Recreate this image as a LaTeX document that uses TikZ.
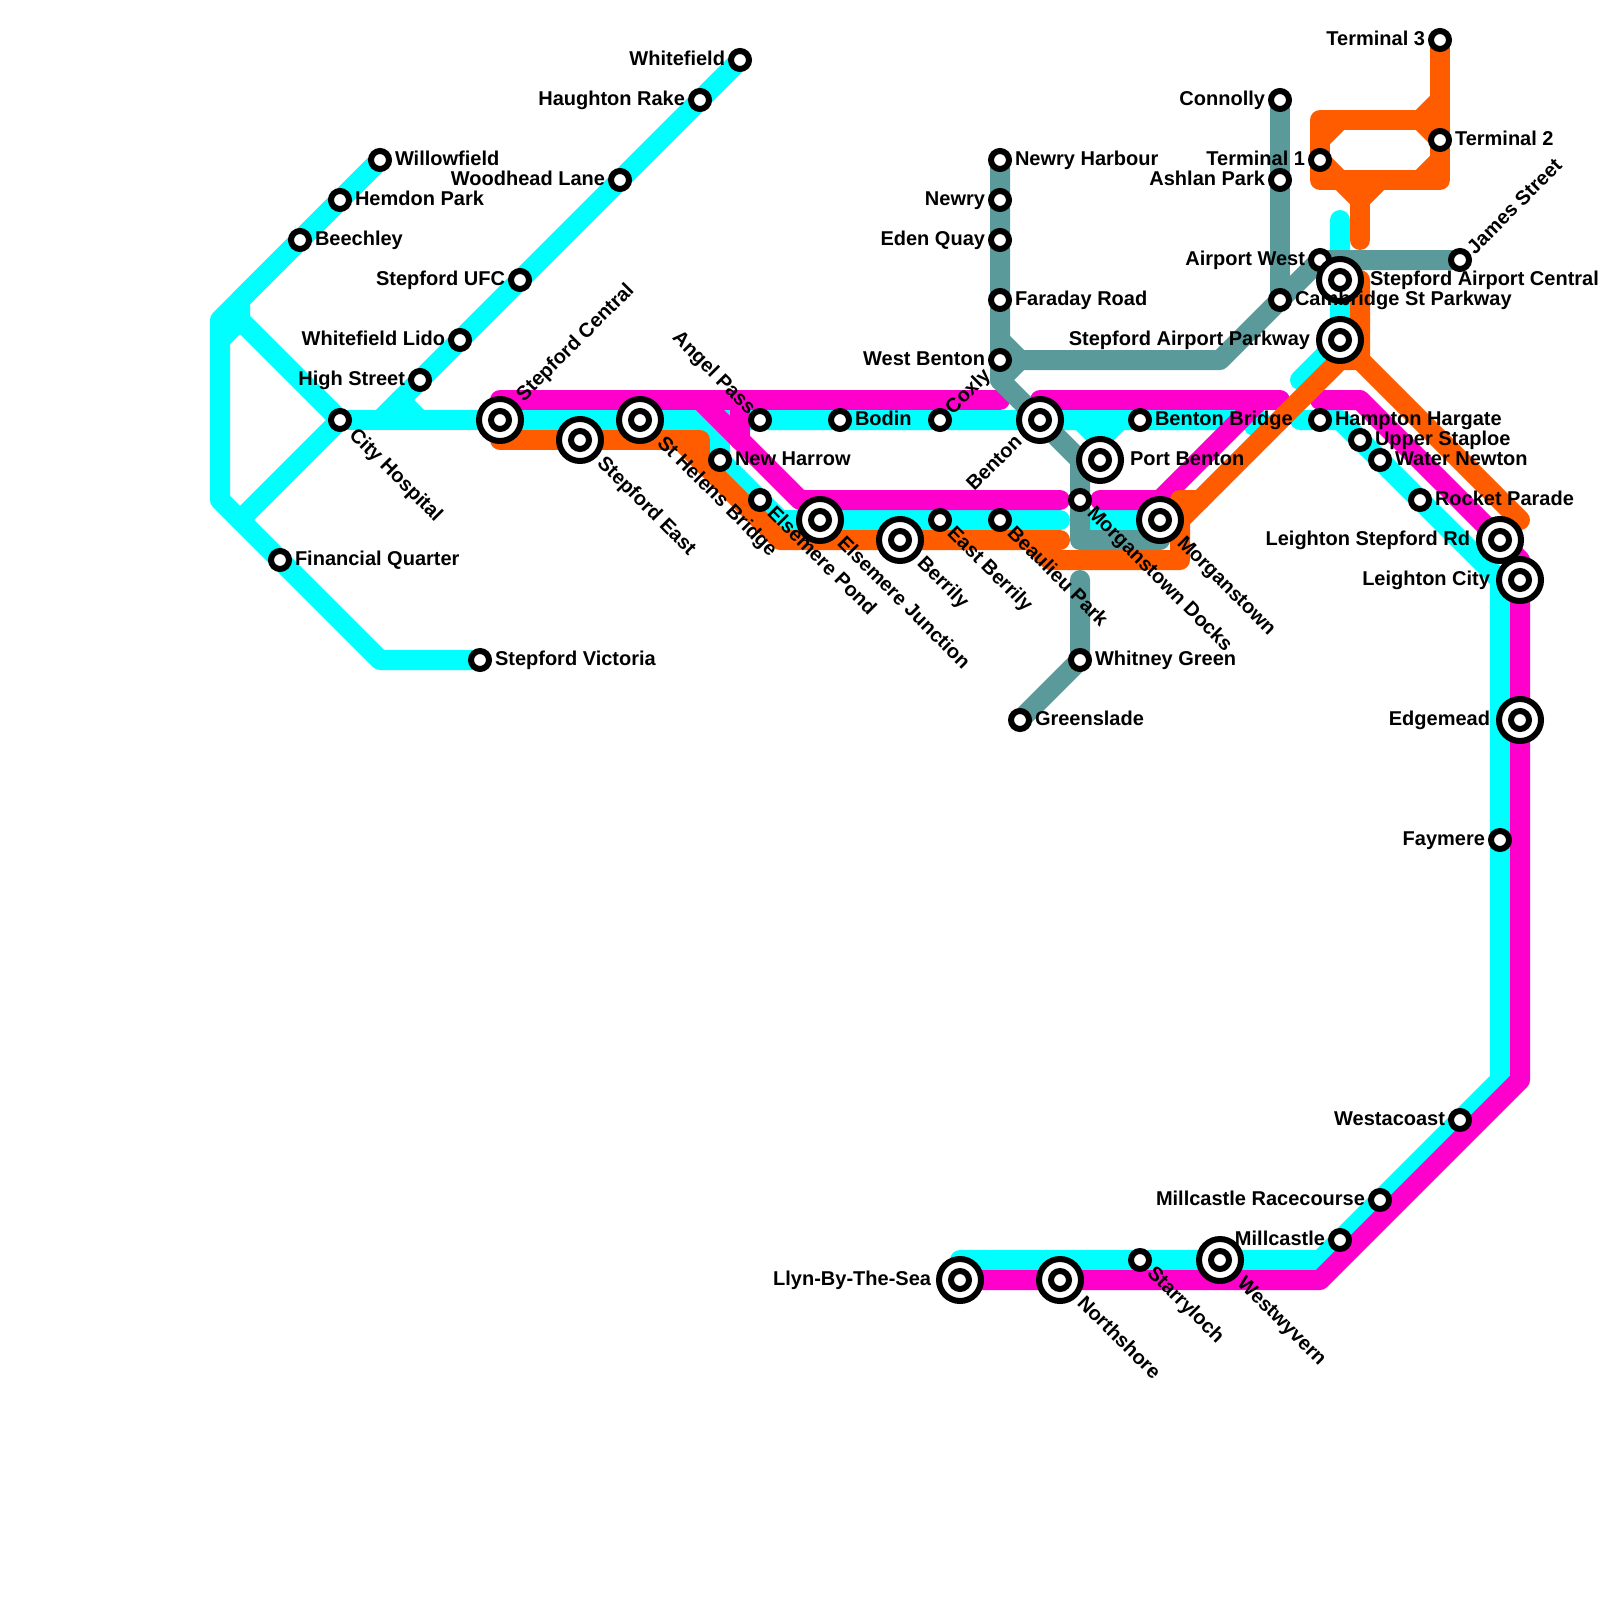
\documentclass[tikz,border=0pt]{standalone}
\usepackage{fontspec}
\setmainfont{Liberation Sans}
\usetikzlibrary{backgrounds}
\definecolor{lcyan}{HTML}{00FFFF}
\definecolor{lmag}{HTML}{FF00CC}
\definecolor{lorange}{HTML}{FF5C00}
\definecolor{lteal}{HTML}{5A9A9A}
\tikzset{
  stn/.style={circle,draw=black,fill=white,line width=6pt,minimum size=18pt,inner sep=0pt,outer sep=0pt},
  inter/.style={circle,draw=black,fill=white,line width=6pt,minimum size=42pt,inner sep=0pt,outer sep=0pt,
    path picture={\draw[black,line width=6pt] (path picture bounding box.center) circle (9pt);}},
  lb/.style={inner sep=0pt,outer sep=0pt,text height=14.3pt,text depth=0pt,font=\fontsize{20}{22}\selectfont\bfseries,text=black},
  lr/.style={lb,anchor=west},
  ll/.style={lb,anchor=east},
  ldown/.style={lb,anchor=west,rotate=-45},
  lup/.style={lb,anchor=west,rotate=45},
  lbackup/.style={lb,anchor=east,rotate=-45},
  lbackdown/.style={lb,anchor=east,rotate=45},
  metro/.style={line width=20pt,line cap=round,line join=round},
  cyanline/.style={metro,draw=lcyan},
  magline/.style={metro,draw=lmag},
  tealline/.style={metro,draw=lteal},
  orangeline/.style={metro,draw=lorange},
}
\begin{document}
\begin{tikzpicture}[x=1pt,y=-1pt]
\useasboundingbox (0,0) rectangle (1600,1600);
% stations
\node[stn] (whitefield) at (740,60) {};
\node[stn] (haughton) at (700,100) {};
\node[stn] (woodhead) at (620,180) {};
\node[stn] (ufc) at (520,280) {};
\node[stn] (lido) at (460,340) {};
\node[stn] (highst) at (420,380) {};
\node[stn] (cityhosp) at (340,420) {};
\node[stn] (willow) at (380,160) {};
\node[stn] (hemdon) at (340,200) {};
\node[stn] (beechley) at (300,240) {};
\node[stn] (finq) at (280,560) {};
\node[stn] (victoria) at (480,660) {};
\node[inter] (stepcentral) at (500,420) {};
\node[inter] (stepeast) at (580,440) {};
\node[inter] (sthelens) at (640,420) {};
\node[stn] (angel) at (760,420) {};
\node[stn] (bodin) at (840,420) {};
\node[stn] (coxly) at (940,420) {};
\node[inter] (benton) at (1040,420) {};
\node[inter] (portbenton) at (1100,460) {};
\node[stn] (bentonbr) at (1140,420) {};
\node[stn] (newharrow) at (720,460) {};
\node[stn] (elspond) at (760,500) {};
\node[inter] (elsjunc) at (820,520) {};
\node[inter] (berrily) at (900,540) {};
\node[stn] (eastb) at (940,520) {};
\node[stn] (beaulieu) at (1000,520) {};
\node[stn] (mdocks) at (1080,500) {};
\node[inter] (morgan) at (1160,520) {};
\node[stn] (whitney) at (1080,660) {};
\node[stn] (greenslade) at (1020,720) {};
\node[stn] (newryh) at (1000,160) {};
\node[stn] (newry) at (1000,200) {};
\node[stn] (eden) at (1000,240) {};
\node[stn] (faraday) at (1000,300) {};
\node[stn] (westb) at (1000,360) {};
\node[stn] (connolly) at (1280,100) {};
\node[stn] (ashlan) at (1280,180) {};
\node[stn] (cambridge) at (1280,300) {};
\node[stn] (term1) at (1320,160) {};
\node[stn] (term2) at (1440,140) {};
\node[stn] (term3) at (1440,40) {};
\node[stn] (james) at (1460,260) {};
\node[stn] (airwest) at (1320,260) {};
\node[inter] (sac) at (1340,280) {};
\node[inter] (sap) at (1340,340) {};
\node[stn] (hampton) at (1320,420) {};
\node[stn] (upper) at (1360,440) {};
\node[stn] (water) at (1380,460) {};
\node[stn] (rocket) at (1420,500) {};
\node[inter] (lstep) at (1500,540) {};
\node[inter] (lcity) at (1520,580) {};
\node[inter] (edgemead) at (1520,720) {};
\node[stn] (faymere) at (1500,840) {};
\node[stn] (westa) at (1460,1120) {};
\node[stn] (millrace) at (1380,1200) {};
\node[stn] (millc) at (1340,1240) {};
\node[inter] (westw) at (1220,1260) {};
\node[stn] (starry) at (1140,1260) {};
\node[inter] (north) at (1060,1280) {};
\node[inter] (llyn) at (960,1280) {};
% labels
\node[ll] (t1) at (725,58) {Whitefield};
\node[ll] (t2) at (685,98) {Haughton Rake};
\node[ll] (t3) at (605,178) {Woodhead Lane};
\node[ll] (t4) at (505,278) {Stepford UFC};
\node[ll] (t5) at (445,338) {Whitefield Lido};
\node[ll] (t6) at (405,378) {High Street};
\node[ldown] (t7) at (353.5,431) {City Hospital};
\node[lr] (t8) at (395,158) {Willowfield};
\node[lr] (t9) at (355,198) {Hemdon Park};
\node[lr] (t10) at (315,238) {Beechley};
\node[lr] (t11) at (295,558) {Financial Quarter};
\node[lr] (t12) at (495,658) {Stepford Victoria};
\node[lup] (t13) at (519,397) {Stepford Central};
\node[ldown] (t14) at (601.5,459) {Stepford East};
\node[ldown] (t15) at (661.5,439) {St Helens Bridge};
\node[lbackup] (t16) at (753,410) {Angel Pass};
\node[lr] (t17) at (855,418) {Bodin};
\node[lup] (t18) at (948,410) {Coxly};
\node[lbackdown] (t19) at (1018,438) {Benton};
\node[lr] (t20) at (1130,458) {Port Benton};
\node[lr] (t21) at (1155,418) {Benton Bridge};
\node[lr] (t22) at (735,458) {New Harrow};
\node[ldown] (t23) at (771.5,509) {Elsemere Pond};
\node[ldown] (t24) at (841.5,539) {Elsemere Junction};
\node[ldown] (t25) at (921.5,559) {Berrily};
\node[ldown] (t26) at (951.5,529) {East Berrily};
\node[ldown] (t27) at (1011.5,529) {Beaulieu Park};
\node[ldown] (t28) at (1091.5,509) {Morganstown Docks};
\node[ldown] (t29) at (1181.5,539) {Morganstown};
\node[lr] (t30) at (1095,658) {Whitney Green};
\node[lr] (t31) at (1035,718) {Greenslade};
\node[lr] (t32) at (1015,158) {Newry Harbour};
\node[ll] (t33) at (985,198) {Newry};
\node[ll] (t34) at (985,238) {Eden Quay};
\node[lr] (t35) at (1015,298) {Faraday Road};
\node[ll] (t36) at (985,358) {West Benton};
\node[ll] (t37) at (1265,98) {Connolly};
\node[ll] (t38) at (1265,178) {Ashlan Park};
\node[lr] (t39) at (1295,298) {Cambridge St Parkway};
\node[ll] (t40) at (1305,158) {Terminal 1};
\node[lr] (t41) at (1455,138) {Terminal 2};
\node[ll] (t42) at (1425,38) {Terminal 3};
\node[lup] (t43) at (1470,250) {James Street};
\node[ll] (t44) at (1305,258) {Airport West};
\node[lr] (t45) at (1370,278) {Stepford Airport Central};
\node[ll] (t46) at (1310,338) {Stepford Airport Parkway};
\node[lr] (t47) at (1335,418) {Hampton Hargate};
\node[lr] (t48) at (1375,438) {Upper Staploe};
\node[lr] (t49) at (1395,458) {Water Newton};
\node[lr] (t50) at (1435,498) {Rocket Parade};
\node[ll] (t51) at (1470,538) {Leighton Stepford Rd};
\node[ll] (t52) at (1490,578) {Leighton City};
\node[ll] (t53) at (1490,718) {Edgemead};
\node[ll] (t54) at (1485,838) {Faymere};
\node[ll] (t55) at (1445,1118) {Westacoast};
\node[ll] (t56) at (1365,1198) {Millcastle Racecourse};
\node[ll] (t57) at (1325,1238) {Millcastle};
\node[ldown] (t58) at (1241.5,1279) {Westwyvern};
\node[ldown] (t59) at (1151.5,1269) {Starryloch};
\node[ldown] (t60) at (1081.5,1299) {Northshore};
\node[ll] (t61) at (931,1278) {Llyn-By-The-Sea};
% bends
\foreach \n/\x/\y in {a1/220/320,a2/220/500,a3/380/660,a4/240/300,a5/240/320,a6/240/520,a7/220/340,
  a8/400/400,a9/420/420,a10/700/420,a11/720/440,a12/780/520,a13/1060/520,a14/1260/420,a15/1254/426,
  a16/1080/420,a17/1100/440,a18/1120/420,a19/1080/520,a20/1300/420,a21/1340/420,a22/1500/580,
  a23/1500/1080,a24/1320/1260,a25/960/1260,a26/1340/220,a27/1300/380,a28/380/420,
  m1/500/400,m2/1000/400,m3/700/400,m4/800/500,m5/1060/500,m6/740/400,m7/740/440,m8/1040/400,m9/1280/400,
  m10/1100/500,m11/1160/500,m12/1260/400,m13/1320/400,m14/1360/400,m15/1520/560,m16/1520/1080,m17/1320/1280,
  k1/1000/380,k2/1000/340,k3/1020/360,k4/1220/360,k5/1080/460,k6/1080/540,k7/1160/540,k8/1080/580,
  o1/500/440,o2/700/440,o3/700/460,o4/780/540,o5/1030/540,o6/1050/560,o7/1180/560,o8/1180/500,o9/1200/500,
  o10/1340/360,o11/1360/360,o12/1360/280,o13/1520/520,o14/1060/540,o15/680/440,o16/1180/520,
  p1/1320/120,p2/1440/120,p3/1440/180,p4/1320/180,p5/1320/140,p6/1340/120,p7/1340/180,p8/1420/120,
  p9/1440/160,p10/1420/180,p11/1440/100,p12/1360/200,p13/1380/180,p14/1360/240}
  {\coordinate (\n) at (\x,\y);}
% lines
\begin{pgfonlayer}{background}
\draw[cyanline] (willow.center)--(a1)--(a2)--(a3)--(victoria.center);
\draw[cyanline] (willow.center)--(a4)--(a5)--(cityhosp.center)--(a6);
\draw[cyanline] (a7)--(a5);
\draw[cyanline] (cityhosp.center)--(stepcentral.center);
\draw[cyanline] (whitefield.center)--(a28);
\draw[cyanline] (a8)--(a9);
\draw[cyanline] (stepcentral.center)--(a10)--(a11)--(newharrow.center)--(a12)--(a13);
\draw[cyanline] (stepcentral.center)--(benton.center)--(a14)--(a15);
\draw[cyanline] (a16)--(a17)--(portbenton.center);
\draw[cyanline] (a17)--(a18);
\draw[cyanline] (a19)--(morgan.center);
\draw[cyanline] (a20)--(a21)--(a22)--(a23)--(a24)--(a25);
\draw[cyanline] (a26)--(sac.center)--(sap.center)--(a27);
\draw[magline] (m1)--(m2);
\draw[magline] (m3)--(m4)--(m5);
\draw[magline] (m6)--(m7);
\draw[magline] (m8)--(m9);
\draw[magline] (m10)--(m11)--(m12);
\draw[magline] (m13)--(m14)--(m15)--(m16)--(m17)--(llyn.center);
\draw[orangeline] (o1)--(o2)--(o3);
\draw[orangeline] (o15)--(o4)--(o14);
\draw[orangeline] (o5)--(o6)--(o7)--(o8)--(o9);
\draw[orangeline] (o16)--(o10)--(o11)--(o12);
\draw[orangeline] (o11)--(o13);
\draw[tealline] (newryh.center)--(k1)--(benton.center)--(k5)--(k6)--(k7);
\draw[tealline] (k2)--(k3)--(k1);
\draw[tealline] (k3)--(k4)--(airwest.center)--(james.center);
\draw[tealline] (connolly.center)--(cambridge.center);
\draw[tealline] (k8)--(whitney.center)--(greenslade.center);
\draw[orangeline] (p1)--(p2)--(p3)--(p4)--cycle;
\draw[orangeline] (term3.center)--(p2);
\draw[orangeline] (p5)--(p6);
\draw[orangeline] (term1.center)--(p7);
\draw[orangeline] (p8)--(term2.center);
\draw[orangeline] (p9)--(p10);
\draw[orangeline] (p8)--(p11);
\draw[orangeline] (p7)--(p12)--(p13);
\draw[orangeline] (p12)--(p14);
\end{pgfonlayer}
\end{tikzpicture}
\end{document}
